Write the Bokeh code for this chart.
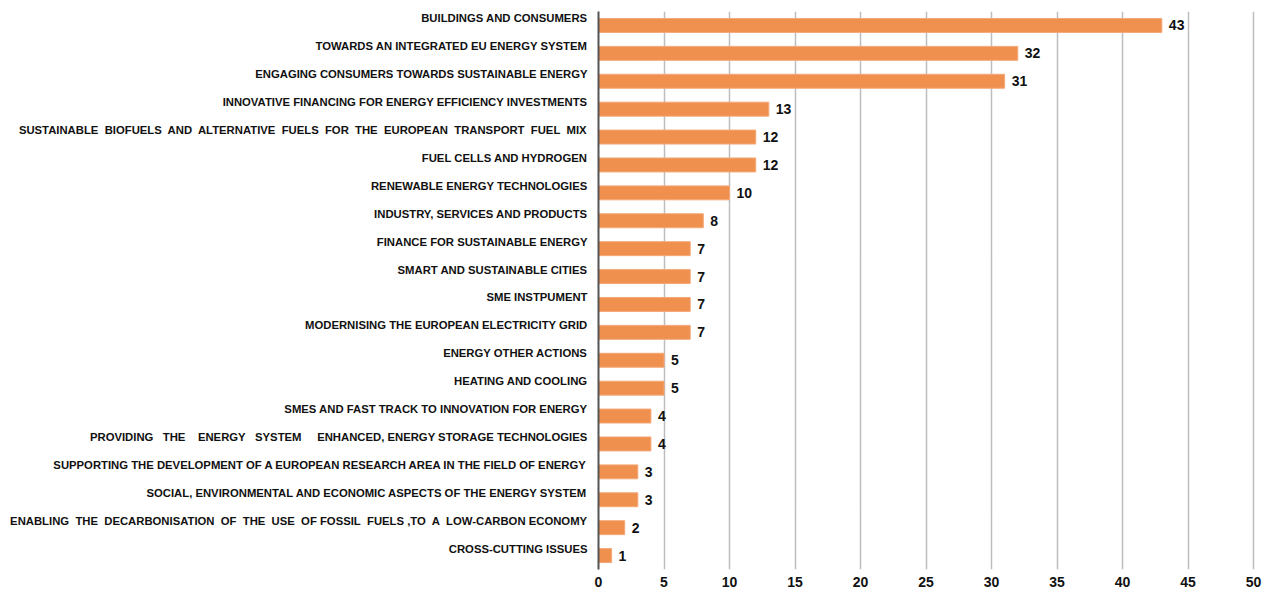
from bokeh.plotting import figure
from bokeh.models import ColumnDataSource, Range1d, FixedTicker
from bokeh.core.properties import value
from bokeh.embed import file_html
from bokeh.resources import INLINE

NB = "\u00a0"
categories = [
    "BUILDINGS AND CONSUMERS",
    "TOWARDS AN INTEGRATED EU ENERGY SYSTEM",
    "ENGAGING CONSUMERS TOWARDS SUSTAINABLE ENERGY",
    "INNOVATIVE FINANCING FOR ENERGY EFFICIENCY INVESTMENTS",
    "SUSTAINABLE" + NB + " BIOFUELS" + NB + " AND" + NB + " ALTERNATIVE" + NB + " FUELS" + NB + " FOR" + NB
    + " THE" + NB + " EUROPEAN" + NB + " TRANSPORT" + NB + " FUEL" + NB + " MIX",
    "FUEL CELLS AND HYDROGEN",
    "RENEWABLE ENERGY TECHNOLOGIES",
    "INDUSTRY, SERVICES AND PRODUCTS",
    "FINANCE FOR SUSTAINABLE ENERGY",
    "SMART AND SUSTAINABLE CITIES",
    "SME INSTPUMENT",
    "MODERNISING THE EUROPEAN ELECTRICITY GRID",
    "ENERGY OTHER ACTIONS",
    "HEATING AND COOLING",
    "SMES AND FAST TRACK TO INNOVATION FOR ENERGY",
    "PROVIDING" + NB * 2 + " THE" + NB * 3 + " ENERGY" + NB * 2 + " SYSTEM" + NB * 4
    + " ENHANCED, ENERGY STORAGE TECHNOLOGIES",
    "SUPPORTING THE DEVELOPMENT OF A EUROPEAN RESEARCH AREA IN THE FIELD OF ENERGY",
    "SOCIAL, ENVIRONMENTAL AND ECONOMIC ASPECTS OF THE ENERGY SYSTEM",
    "ENABLING" + NB + " THE" + NB + " DECARBONISATION" + NB + " OF" + NB + " THE" + NB + " USE" + NB
    + " OF FOSSIL" + NB + " FUELS ,TO" + NB + " A" + NB + " LOW-CARBON ECONOMY",
    "CROSS-CUTTING ISSUES",
]
values = [43, 32, 31, 13, 12, 12, 10, 8, 7, 7, 7, 7, 5, 5, 4, 4, 3, 3, 2, 1]
x_ticks = [0, 5, 10, 15, 20, 25, 30, 35, 40, 45, 50]

FONT = "Liberation Sans"
n = len(categories)

# row position of each category (first category at the top)
row = [n - 1 - i + 0.5 for i in range(n)]
label_pos = [r + 0.25 for r in row]   # labels printed a quarter band above their bar

src = ColumnDataSource(dict(row=row, val=values, lab=[str(v) for v in values]))

p = figure(
    width=1270, height=593,
    y_range=Range1d(0, n),
    x_range=Range1d(0, 50.53),
    output_backend="svg", toolbar_location=None,
    min_border_left=598, min_border_right=10, min_border_top=11, min_border_bottom=24,
)
p.outline_line_color = None
p.background_fill_color = "white"

p.hbar(y="row", right="val", left=0, height=0.5, source=src,
       fill_color="#F0904F", line_color="#F4A878", line_width=1)

p.text(x="val", y="row", text="lab", source=src, x_offset=7, y_offset=0,
       text_font=value(FONT), text_font_style="bold", text_font_size="14px",
       text_color="#111111", text_baseline="middle", text_align="left")

yax = p.yaxis[0]
yax.ticker = FixedTicker(ticks=label_pos)
yax.major_label_overrides = {pos: lab for pos, lab in zip(label_pos, categories)}
yax.axis_line_color = "#555555"
yax.axis_line_width = 2
yax.major_tick_line_color = None
yax.minor_tick_line_color = None
yax.major_label_text_font = FONT
yax.major_label_text_font_style = "bold"
yax.major_label_text_font_size = "11.3px"
yax.major_label_text_color = "#111111"
yax.major_label_standoff = 5

p.xaxis.ticker = FixedTicker(ticks=x_ticks)
p.xaxis.axis_line_color = None
p.xaxis.major_tick_line_color = None
p.xaxis.minor_tick_line_color = None
p.xaxis.major_label_text_font = FONT
p.xaxis.major_label_text_font_style = "bold"
p.xaxis.major_label_text_font_size = "14px"
p.xaxis.major_label_text_color = "#111111"
p.xaxis.major_label_standoff = 1

p.xgrid.grid_line_color = "#BDBDBD"
p.xgrid.grid_line_width = 1.5
p.ygrid.grid_line_color = None

open("out.html", "w").write(file_html(p, INLINE))
